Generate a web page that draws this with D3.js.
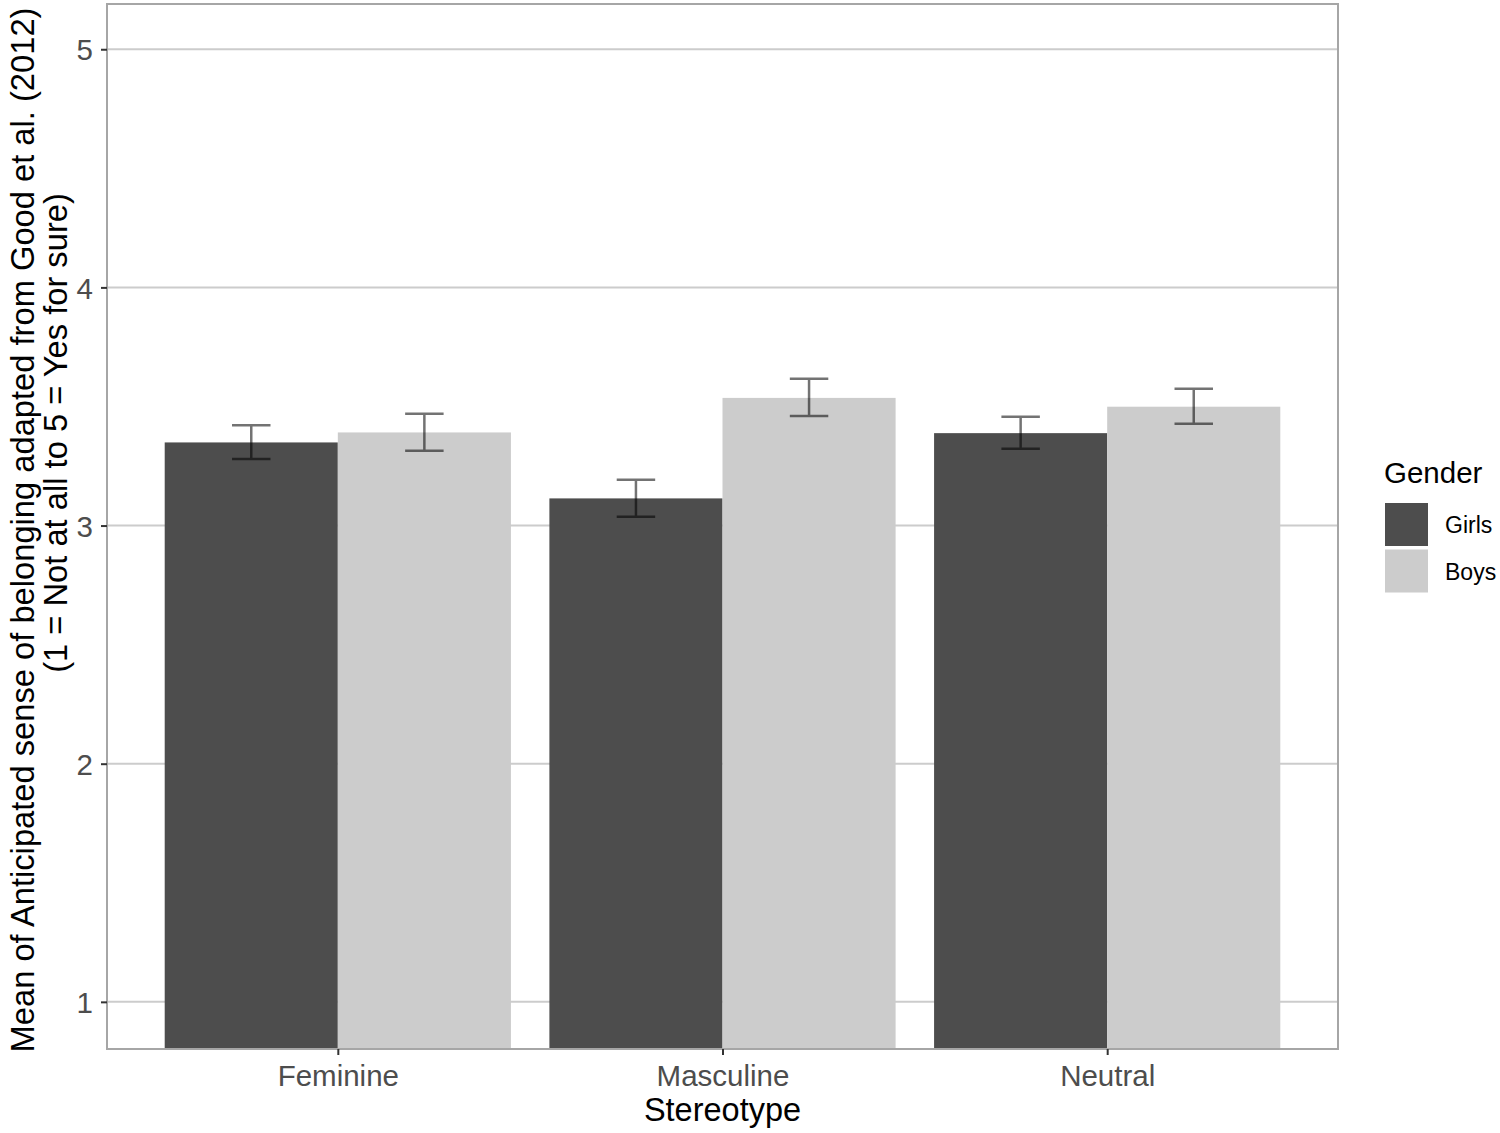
<!DOCTYPE html>
<html>
<head>
<meta charset="utf-8">
<script src="https://cdn.jsdelivr.net/npm/d3@7"></script>
<style>
  body { margin: 0; background: #fff; }
  text { font-family: "Liberation Sans", Arial, sans-serif; }
</style>
</head>
<body>
<svg id="chart"></svg>
<script>
// data
const stereotypes = ["Feminine", "Masculine", "Neutral"];
const genders = ["Girls", "Boys"];
const girlsMean = [3.349, 3.114, 3.388];
const girlsLow  = [3.279, 3.037, 3.322];
const girlsHigh = [3.421, 3.192, 3.457];
const boysMean  = [3.391, 3.536, 3.499];
const boysLow   = [3.314, 3.460, 3.427];
const boysHigh  = [3.469, 3.616, 3.574];
const yTicks = [1, 2, 3, 4, 5];

const rows = [];
stereotypes.forEach((s, i) => {
  rows.push({ stereotype: s, gender: "Girls", mean: girlsMean[i], lo: girlsLow[i], hi: girlsHigh[i] });
  rows.push({ stereotype: s, gender: "Boys", mean: boysMean[i], lo: boysLow[i], hi: boysHigh[i] });
});

const W = 1500, H = 1133;
const panel = { left: 107, top: 4, right: 1338, bottom: 1049 };

const svg = d3.select("#chart").attr("width", W).attr("height", H);

// discrete x: 3 categories with 0.6 expansion each side
const x = d3.scaleLinear()
  .domain([0.4, 3.6])
  .range([panel.left, panel.right]);
const y = d3.scaleLinear()
  .domain([0.802, 5.19])
  .range([panel.bottom, panel.top]);

const fill = d3.scaleOrdinal().domain(genders).range(["#4d4d4d", "#cccccc"]);
const dodge = 0.9;
const barW = dodge / genders.length;
const offset = d => (genders.indexOf(d.gender) - (genders.length - 1) / 2) * barW;
const xc = d => x(stereotypes.indexOf(d.stereotype) + 1 + offset(d));

svg.append("defs").append("clipPath").attr("id", "clip")
  .append("rect")
  .attr("x", panel.left).attr("y", panel.top)
  .attr("width", panel.right - panel.left)
  .attr("height", panel.bottom - panel.top);

// grid
svg.append("g").selectAll("line")
  .data(yTicks).enter().append("line")
  .attr("x1", panel.left).attr("x2", panel.right)
  .attr("y1", d => y(d)).attr("y2", d => y(d))
  .attr("stroke", "#cccccc").attr("stroke-width", 2);

// bars
const plot = svg.append("g").attr("clip-path", "url(#clip)");
plot.selectAll("rect.bar")
  .data(rows).enter().append("rect")
  .attr("class", "bar")
  .attr("x", d => xc(d) - (x(barW) - x(0)) / 2)
  .attr("width", x(barW) - x(0))
  .attr("y", d => y(d.mean))
  .attr("height", d => y(0) - y(d.mean))
  .attr("fill", d => fill(d.gender));

// error bars
const capW = x(0.1) - x(0);
const eb = plot.selectAll("g.err").data(rows).enter().append("g")
  .attr("class", "err")
  .attr("stroke", "#000").attr("stroke-opacity", 0.55).attr("stroke-width", 2.5)
  .attr("fill", "none");
eb.append("path")
  .attr("d", d => {
    const c = xc(d), h = capW / 2;
    return `M${c - h},${y(d.hi)}H${c + h}M${c},${y(d.hi)}V${y(d.lo)}M${c - h},${y(d.lo)}H${c + h}`;
  });

// panel border
svg.append("rect")
  .attr("x", panel.left).attr("y", panel.top)
  .attr("width", panel.right - panel.left)
  .attr("height", panel.bottom - panel.top)
  .attr("fill", "none").attr("stroke", "#a6a6a6").attr("stroke-width", 2);

// axes
const yAxis = svg.append("g")
  .attr("transform", `translate(${panel.left},0)`)
  .call(d3.axisLeft(y).tickValues(yTicks).tickSize(6).tickPadding(8).tickFormat(d3.format("d")));
const xAxis = svg.append("g")
  .attr("transform", `translate(0,${panel.bottom})`)
  .call(d3.axisBottom(x).tickValues([1, 2, 3]).tickSize(6).tickPadding(6)
    .tickFormat(d => stereotypes[d - 1]));
[yAxis, xAxis].forEach(a => {
  a.select(".domain").remove();
  a.selectAll(".tick line").attr("stroke", "#333").attr("stroke-width", 2);
  a.selectAll(".tick text").attr("fill", "#4d4d4d").style("font-size", "29.5px")
    .style("font-family", "'Liberation Sans', Arial, sans-serif");
});
xAxis.selectAll(".tick text").attr("dy", "0.85em");
yAxis.selectAll(".tick text").attr("dy", "0.36em");

// titles
svg.append("text")
  .attr("x", (panel.left + panel.right) / 2).attr("y", 1121)
  .attr("text-anchor", "middle").attr("fill", "#000")
  .style("font-size", "32.5px")
  .text("Stereotype");

// second line of the y title sits off-centre in the reference
const yt = svg.append("text")
  .attr("transform", "translate(0,530) rotate(-90)")
  .attr("text-anchor", "middle").attr("fill", "#000")
  .style("font-size", "32.7px");
yt.append("tspan").attr("x", 0).attr("y", 34)
  .text("Mean of Anticipated sense of belonging adapted from Good et al. (2012)");
yt.append("tspan").attr("x", 97).attr("y", 67)
  .text("(1 = Not at all to 5 = Yes for sure)");

// legend
const lg = svg.append("g").attr("transform", "translate(1384,0)");
lg.append("text").attr("x", 0).attr("y", 483)
  .attr("fill", "#000").style("font-size", "29.5px").text("Gender");
const item = lg.selectAll("g.item").data(genders).enter().append("g")
  .attr("class", "item")
  .attr("transform", (d, i) => `translate(0,${502 + i * 46.5})`);
item.append("rect")
  .attr("x", 1).attr("y", 1).attr("width", 43).attr("height", 43)
  .attr("fill", d => fill(d));
item.append("text")
  .attr("x", 61).attr("y", 23).attr("dy", "0.36em")
  .attr("fill", "#000").style("font-size", "23px")
  .text(d => d);
</script>
</body>
</html>
